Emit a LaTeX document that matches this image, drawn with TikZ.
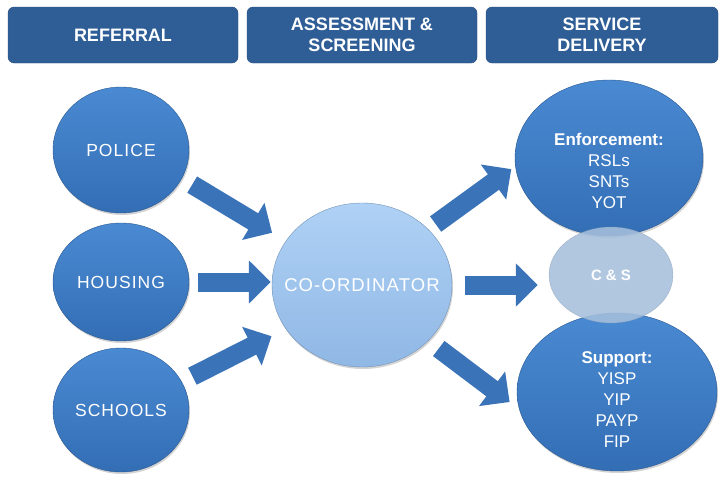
\documentclass[tikz,border=0pt]{standalone}
\usepackage{fontspec}
\setmainfont{Liberation Sans}
\newfontfamily\spaced[LetterSpace=6]{Liberation Sans}
\usetikzlibrary{positioning, arrows.meta, shapes.geometric, shadows}

\definecolor{headblue}{HTML}{2F5E97}
\definecolor{headedge}{HTML}{244A7B}
\definecolor{ballhi}{HTML}{4A8AD2}
\definecolor{balllo}{HTML}{336EB5}
\definecolor{coordhi}{HTML}{AFD1F5}
\definecolor{coordlo}{HTML}{90B8E5}
\definecolor{arrowblue}{HTML}{3B73B8}
\definecolor{csblue}{HTML}{A6BFDC}

\begin{document}
\begin{tikzpicture}[x=1pt, y=-1pt, on grid,
    header/.style={rectangle, rounded corners=6pt, fill=headblue, draw=headedge,
      minimum width=230pt, minimum height=56pt, inner sep=0pt, align=center,
      text=white, font=\fontsize{18}{21}\selectfont\bfseries},
    ball/.style={ellipse, inner sep=0pt, top color=ballhi, bottom color=balllo,
      draw=balllo!80!black, drop shadow={opacity=0.35, shadow xshift=1pt, shadow yshift=-2pt},
      text=white, align=center},
    reflabel/.style={font=\fontsize{17.5}{20}\selectfont\spaced},
    sublabel/.style={text=white, align=center, font=\fontsize{17}{21}\selectfont},
    bigarrow/.style={draw=arrowblue, line width=19pt,
      -{Triangle[width=42pt, length=22pt]}}]
  \useasboundingbox (0,0) rectangle (720,479);

  % column headers
  \node[header] (referral) at (123,35) {REFERRAL};
  \node[header] (assess) [right=239pt of referral] {ASSESSMENT \&\\SCREENING};
  \node[header, minimum width=232pt] (service) [right=240pt of assess] {SERVICE\\DELIVERY};

  % referral sources
  \node[ball, reflabel, minimum width=136pt, minimum height=126pt] (police) at (121,150) {POLICE};
  \node[ball, reflabel, minimum width=136pt, minimum height=118pt] (housing) [below=132pt of police] {HOUSING};
  \node[ball, reflabel, minimum width=136pt, minimum height=124pt] (schools) [below=128pt of housing] {SCHOOLS};

  % co-ordinator
  \node[ball, top color=coordhi, bottom color=coordlo, draw=coordlo!80!black,
    minimum width=180pt, minimum height=164pt] (coord) at (362,285) {};
  \node[text=white, font=\fontsize{18.5}{20}\selectfont\spaced] (coordtext) at (coord.center) {CO-ORDINATOR};

  % services
  \node[ball, minimum width=188pt, minimum height=156pt] (enf) at (609,158) {};
  \node[ball, minimum width=200pt, minimum height=158pt] (sup) at (617,392) {};
  \node[ellipse, fill=csblue, fill opacity=0.88, draw=csblue!80!black, draw opacity=0.6,
    minimum width=124pt, minimum height=96pt, inner sep=0pt, text=white, text opacity=1,
    font=\fontsize{15}{18}\selectfont\bfseries] (cs) at (611,275) {C \& S};
  \node[sublabel] (enftext) at ([yshift=-13pt]enf.center)
    {\textbf{Enforcement:}\\RSLs\\SNTs\\YOT};
  \node[sublabel] (suptext) at ([yshift=-8pt]sup.center)
    {\textbf{Support:}\\YISP\\YIP\\PAYP\\FIP};

  % flows
  \draw[bigarrow, shorten <=12pt, shorten >=16pt] (police.-25) -- (coord.150);
  \draw[bigarrow, shorten <=9pt, shorten >=1pt] (housing.east) -- (housing.east -| coord.west);
  \draw[bigarrow, shorten <=12pt, shorten >=16pt] (schools.25) -- (coord.210);
  \draw[bigarrow, shorten <=9pt, shorten >=5pt] (coord.40) -- (enf.185);
  \draw[bigarrow, shorten <=13pt, shorten >=11pt] (coord.east) -- (coord.east -| cs.west);
  \draw[bigarrow, shorten <=13pt, shorten >=12pt] (coord.-40) -- (sup.190);
\end{tikzpicture}
\end{document}
